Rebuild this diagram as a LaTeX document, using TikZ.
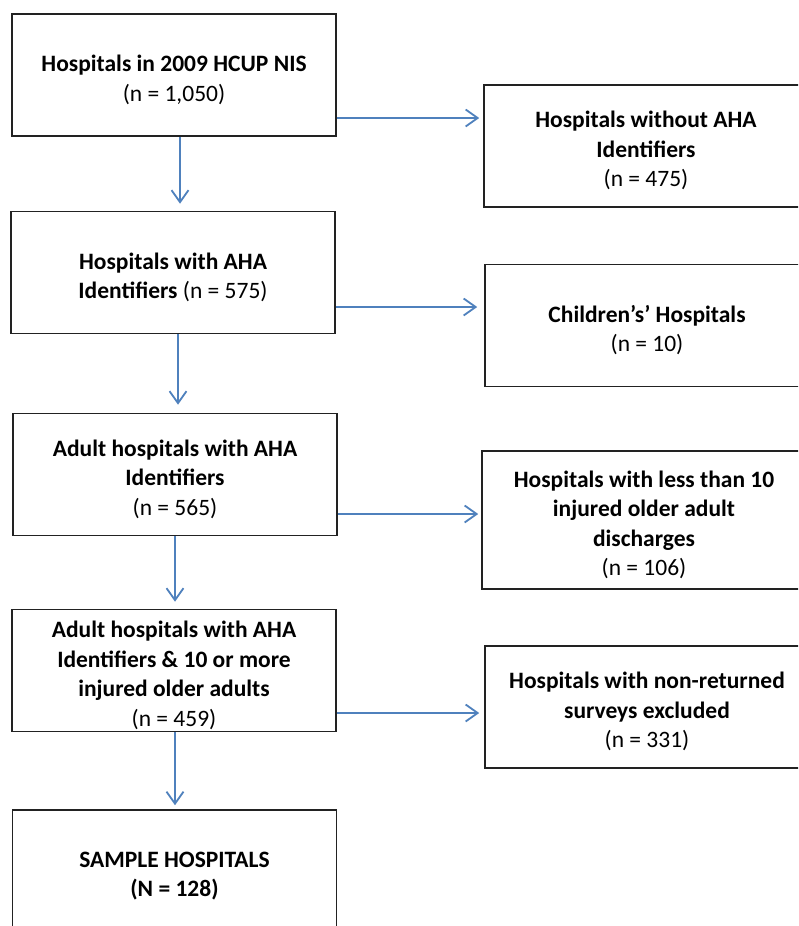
\documentclass[tikz,border=0pt]{standalone}
\usepackage{fontspec}
\setmainfont{Carlito}
\usetikzlibrary{arrows.meta}
\definecolor{arrowblue}{HTML}{4F81BD}
\definecolor{boxline}{HTML}{222222}
\newcommand\topstrut{\rule{0pt}{26pt}}
\begin{document}
\begin{tikzpicture}[x=1pt,y=-1pt,
  box/.style={draw=boxline, line width=1.6pt, rectangle, minimum width=324pt, minimum height=122pt,
    inner sep=0pt, align=center, font=\fontsize{23.5}{29.5}\selectfont},
  arr/.style={draw=arrowblue, line width=1.8pt, -{Straight Barb[length=12pt,width=17pt]}}]
\useasboundingbox (0,0) rectangle (798,926);
\clip (0,0) rectangle (798,926);
\fill[white] (0,0) rectangle (798,926);
% left column
\node[box] (b1) at (174,75) {\topstrut\textbf{Hospitals in 2009 HCUP NIS}\\(n = 1,050)};
\node[box] (b2) at (173,272.5) {\topstrut\textbf{Hospitals with AHA}\\\textbf{Identifiers} (n = 575)};
\node[box] (b3) at (175,474.5) {\topstrut\textbf{Adult hospitals with AHA}\\\textbf{Identifiers}\\(n = 565)};
\node[box] (b4) at (174,670.5) {\topstrut\textbf{Adult hospitals with AHA}\\\textbf{Identifiers \& 10 or more}\\\textbf{injured older adults}\\(n = 459)};
\node[box] (b5) at (174.5,871) {\topstrut\textbf{SAMPLE HOSPITALS}\\\textbf{(N = 128)}};
% right column
\node[box] (r1) at (646,146) {\topstrut\textbf{Hospitals without AHA}\\\textbf{Identifiers}\\(n = 475)};
\node[box] (r2) at (647,325.5) {\topstrut\textbf{Children’s’ Hospitals}\\(n = 10)};
\node[box, minimum height=138pt] (r3) at (644,520) {\topstrut\textbf{Hospitals with less than 10}\\\textbf{injured older adult}\\\textbf{discharges}\\(n = 106)};
\node[box] (r4) at (647,707) {\topstrut\textbf{Hospitals with non-returned}\\\textbf{surveys excluded}\\(n = 331)};
% vertical arrows
\draw[arr, shorten >=7pt] ([xshift=6pt]b1.south) -- ([xshift=6pt]b1.south |- b2.north);
\draw[arr, shorten >=8pt] ([xshift=5pt]b2.south) -- ([xshift=5pt]b2.south |- b3.north);
\draw[arr, shorten >=7pt] ([xshift=0pt]b3.south) -- ([xshift=0pt]b3.south |- b4.north);
\draw[arr, shorten >=4pt] ([xshift=1pt]b4.south) -- ([xshift=1pt]b4.south |- b5.north);
% horizontal arrows
\draw[arr, shorten >=4pt] ([yshift=-43pt]b1.east) -- ([yshift=-43pt]b1.east -| r1.west);
\draw[arr, shorten >=7pt] ([yshift=-34.5pt]b2.east) -- ([yshift=-34.5pt]b2.east -| r2.west);
\draw[arr, shorten >=3pt] ([yshift=-39.5pt]b3.east) -- ([yshift=-39.5pt]b3.east -| r3.west);
\draw[arr, shorten >=5pt] ([yshift=-42.5pt]b4.east) -- ([yshift=-42.5pt]b4.east -| r4.west);
\end{tikzpicture}
\end{document}
